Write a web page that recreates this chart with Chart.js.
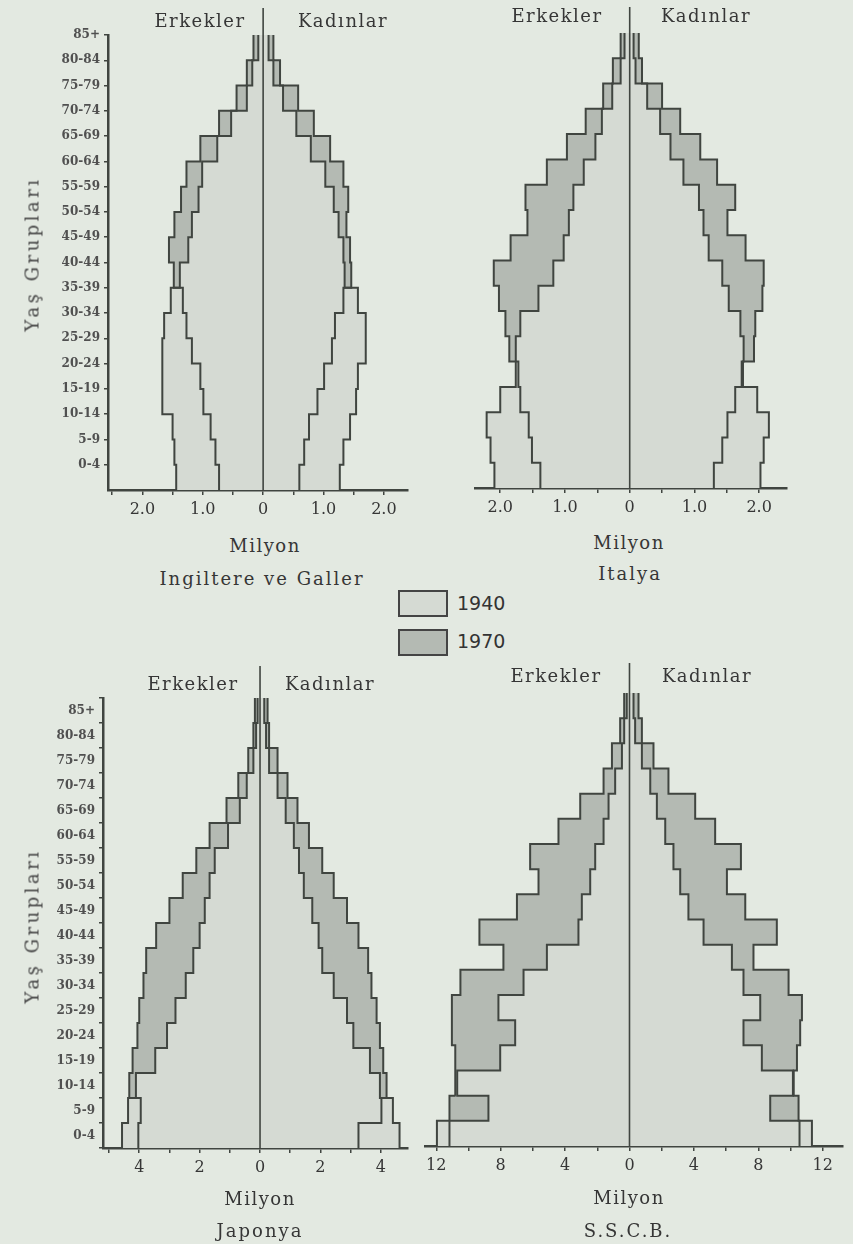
<!DOCTYPE html>
<html lang="tr">
<head>
<meta charset="utf-8">
<title>Yaş piramitleri 1940 - 1970</title>
<script src="https://cdn.jsdelivr.net/npm/chart.js@4.4.1/dist/chart.umd.min.js"></script>
<style>
  body { margin: 0; background: #e3e9e1; }
  #page { position: relative; width: 853px; height: 1244px; overflow: hidden;
          font-family: "DejaVu Serif", serif; color: #363636; }
  canvas { position: absolute; }
  .lbl { position: absolute; transform: translate(-50%, -50%); white-space: nowrap;
         font-size: 18px; letter-spacing: 1.5px; }
  .side { position: absolute; transform: translate(-50%, -50%) rotate(-90deg); white-space: nowrap;
          font-size: 18px; letter-spacing: 3.5px; color: #454545; }
  .box { position: absolute; width: 46px; height: 23px; border: 2px solid #444; }
  .year { position: absolute; transform: translateY(-50%); font-family: "DejaVu Sans", sans-serif;
          font-size: 19px; color: #333; }
</style>
</head>
<body>
<div id="page">
  <canvas id="eng" width="420" height="530" style="left:0;top:0"></canvas>
  <canvas id="ita" width="433" height="530" style="left:420px;top:0"></canvas>
  <canvas id="jpn" width="420" height="530" style="left:0;top:660px"></canvas>
  <canvas id="sun" width="433" height="530" style="left:420px;top:660px"></canvas>

  <div class="lbl" style="left:200px;top:20px">Erkekler</div>
  <div class="lbl" style="left:343px;top:20px">Kadınlar</div>
  <div class="lbl" style="left:557px;top:15px">Erkekler</div>
  <div class="lbl" style="left:706px;top:15px">Kadınlar</div>
  <div class="lbl" style="left:193px;top:683px">Erkekler</div>
  <div class="lbl" style="left:330px;top:683px">Kadınlar</div>
  <div class="lbl" style="left:556px;top:675px">Erkekler</div>
  <div class="lbl" style="left:707px;top:675px">Kadınlar</div>

  <div class="lbl" style="left:265px;top:545px">Milyon</div>
  <div class="lbl" style="left:262px;top:578px;letter-spacing:2px">Ingiltere ve Galler</div>
  <div class="lbl" style="left:629px;top:542px">Milyon</div>
  <div class="lbl" style="left:630px;top:573px;letter-spacing:2px">Italya</div>
  <div class="lbl" style="left:260px;top:1198px">Milyon</div>
  <div class="lbl" style="left:260px;top:1230px;letter-spacing:2px">Japonya</div>
  <div class="lbl" style="left:629px;top:1197px">Milyon</div>
  <div class="lbl" style="left:628px;top:1230px;letter-spacing:2px">S.S.C.B.</div>

  <div class="side" style="left:32px;top:254px">Yaş Grupları</div>
  <div class="side" style="left:32px;top:926px">Yaş Grupları</div>

  <div class="box" style="left:398px;top:590px;background:#d5dad3"></div>
  <div class="year" style="left:457px;top:603px">1940</div>
  <div class="box" style="left:398px;top:629px;background:#b4bab3"></div>
  <div class="year" style="left:457px;top:641px">1970</div>
</div>

<script>
// --- Daten (von unten nach oben: 0-4 ... 85+) ---

const ageGroups = ["0-4", "5-9", "10-14", "15-19", "20-24", "25-29", "30-34", "35-39", "40-44",
    "45-49", "50-54", "55-59", "60-64", "65-69", "70-74", "75-79", "80-84", "85+"];

// Ingiltere ve Galler (Milyon)
const engMen1940 = [1.44, 1.47, 1.50, 1.67, 1.67, 1.67, 1.64, 1.53, 1.38, 1.24, 1.18, 1.07, 1.01, 0.76, 0.53, 0.27, 0.18, 0.08];
const engMen1970 = [0.73, 0.79, 0.87, 0.99, 1.04, 1.18, 1.27, 1.33, 1.48, 1.56, 1.47, 1.36, 1.27, 1.04, 0.73, 0.44, 0.27, 0.16];
const engWomen1940 = [1.27, 1.33, 1.44, 1.54, 1.57, 1.70, 1.70, 1.57, 1.35, 1.33, 1.25, 1.17, 1.03, 0.79, 0.55, 0.33, 0.17, 0.09];
const engWomen1970 = [0.60, 0.68, 0.76, 0.90, 1.01, 1.14, 1.19, 1.33, 1.46, 1.44, 1.38, 1.41, 1.33, 1.11, 0.84, 0.58, 0.28, 0.17];

// Italya
const itaMen1940 = [2.09, 2.15, 2.21, 2.00, 1.76, 1.76, 1.69, 1.41, 1.18, 1.02, 0.94, 0.87, 0.71, 0.53, 0.43, 0.27, 0.14, 0.08];
const itaMen1970 = [1.38, 1.51, 1.56, 1.69, 1.72, 1.86, 1.92, 2.02, 2.10, 1.84, 1.58, 1.61, 1.28, 0.97, 0.68, 0.41, 0.26, 0.14];
const itaWomen1940 = [2.02, 2.07, 2.15, 1.97, 1.75, 1.76, 1.71, 1.53, 1.43, 1.22, 1.14, 1.07, 0.83, 0.63, 0.47, 0.27, 0.09, 0.06];
const itaWomen1970 = [1.30, 1.43, 1.51, 1.63, 1.73, 1.92, 1.94, 2.05, 2.07, 1.79, 1.51, 1.63, 1.35, 1.09, 0.78, 0.50, 0.19, 0.14];

// Japonya
const jpnMen1940 = [4.57, 4.37, 4.11, 3.47, 3.08, 2.80, 2.46, 2.21, 2.00, 1.83, 1.67, 1.50, 1.06, 0.67, 0.44, 0.22, 0.13, 0.08];
const jpnMen1970 = [4.03, 3.95, 4.33, 4.22, 4.06, 4.00, 3.86, 3.77, 3.44, 3.00, 2.56, 2.11, 1.67, 1.11, 0.72, 0.39, 0.22, 0.17];
const jpnWomen1940 = [4.62, 4.40, 3.97, 3.64, 3.09, 2.88, 2.44, 2.06, 1.94, 1.73, 1.45, 1.29, 1.12, 0.85, 0.58, 0.30, 0.20, 0.14];
const jpnWomen1970 = [3.26, 4.02, 4.19, 4.08, 3.97, 3.86, 3.69, 3.58, 3.26, 2.88, 2.44, 2.06, 1.62, 1.24, 0.91, 0.58, 0.30, 0.25];

// S.S.C.B.
const sunMen1940 = [11.96, 8.76, 10.70, 8.03, 7.10, 8.14, 6.58, 5.13, 3.17, 2.96, 2.44, 2.13, 1.61, 1.30, 0.89, 0.47, 0.33, 0.17];
const sunMen1970 = [11.18, 11.18, 10.80, 10.83, 11.03, 11.03, 10.50, 7.83, 9.32, 6.99, 5.65, 6.17, 4.41, 3.06, 1.61, 1.09, 0.58, 0.33];
const sunWomen1940 = [11.33, 8.74, 10.15, 8.22, 7.08, 8.12, 7.08, 6.36, 4.60, 3.66, 3.15, 2.73, 2.22, 1.70, 1.29, 0.77, 0.35, 0.25];
const sunWomen1970 = [10.56, 10.50, 10.20, 10.40, 10.60, 10.71, 9.88, 7.70, 9.15, 7.19, 6.05, 6.92, 5.32, 4.08, 2.42, 1.49, 0.77, 0.56];

// Beschriftete Werte der x-Achsen
const engXLabels = [-2, -1, 0, 1, 2];
const itaXLabels = [-2, -1, 0, 1, 2];
const jpnXLabels = [-4, -2, 0, 2, 4];
const sunXLabels = [-12, -8, -4, 0, 4, 8, 12];

// --- Hilfsfunktionen ---

const LIGHT = "#d5dad3";
const DARK = "#b4bab3";
const INK = "#404540";

function stepPoints(values, sign) {
    // jede Altersgruppe als senkrechte Stufe von i bis i+1
    const points = [];
    values.forEach((v, i) => {
        points.push({ x: sign * v, y: i });
        points.push({ x: sign * v, y: i + 1 });
    });
    return points;
}

function series(values, sign, color) {
    return {
        data: stepPoints(values, sign),
        backgroundColor: color,
        borderColor: INK,
        borderWidth: 2,
        borderJoinStyle: "miter",
        pointRadius: 0,
        tension: 0,
        fill: "origin"
    };
}

const centerLine = {
    id: "centerLine",
    afterDatasetsDraw(chart, args, opts) {
        const x = chart.scales.x.getPixelForValue(0);
        const ctx = chart.ctx;
        ctx.save();
        ctx.strokeStyle = INK;
        ctx.lineWidth = 1.6;
        ctx.beginPath();
        ctx.moveTo(x, opts.top);
        ctx.lineTo(x, chart.chartArea.bottom);
        ctx.stroke();
        ctx.restore();
    }
};

function yAxis(mode, width) {
    if (!mode) {
        return { type: "linear", min: 0, max: 18, display: false };
    }
    // "edge": Etikett an der oberen Grenze, "middle": in der Mitte der Stufe
    const shift = mode === "edge" ? 1 : 0.5;
    return {
        type: "linear",
        min: 0,
        max: 18,
        afterBuildTicks: (scale) => {
            scale.ticks = ageGroups.map((g, i) => ({ value: i + shift }));
        },
        afterFit: (scale) => { scale.width = width; },
        border: { display: true, color: INK, width: 2.5 },
        grid: { drawOnChartArea: false, drawTicks: true, tickLength: 4, color: INK, lineWidth: 1.5,
                offset: mode === "middle" },
        ticks: {
            autoSkip: false,
            padding: 4,
            color: "#505050",
            font: { family: "DejaVu Serif", size: 12, weight: "bold" },
            callback: (v) => ageGroups[Math.round(v - shift)]
        }
    };
}

function makePyramid(id, p) {
    const ctx = document.getElementById(id).getContext("2d");
    return new Chart(ctx, {
        type: "line",
        data: {
            datasets: [
                series(p.men1940, -1, LIGHT),
                series(p.women1940, 1, LIGHT),
                series(p.men1970, -1, DARK),
                series(p.women1970, 1, DARK)
            ]
        },
        plugins: [centerLine],
        options: {
            indexAxis: "y",
            responsive: false,
            animation: false,
            events: [],
            layout: { padding: p.padding },
            scales: {
                x: {
                    type: "linear",
                    min: p.xMin,
                    max: p.xMax,
                    afterFit: (scale) => { scale.height = p.xHeight; },
                    border: { display: true, color: INK, width: 2.5 },
                    grid: { drawOnChartArea: false, drawTicks: true, tickLength: 5, color: INK, lineWidth: 1.5 },
                    ticks: {
                        stepSize: p.step,
                        autoSkip: false,
                        includeBounds: false,
                        maxRotation: 0,
                        padding: 5,
                        color: "#363636",
                        font: { family: "DejaVu Serif", size: 16 },
                        callback: (v) => {
                            if (!p.labels.includes(v)) return "";
                            return v === 0 ? "0" : Math.abs(v).toFixed(p.decimals);
                        }
                    }
                },
                y: yAxis(p.yMode, p.yWidth)
            },
            plugins: {
                legend: { display: false },
                tooltip: { enabled: false },
                filler: { drawTime: "beforeDatasetsDraw" },
                centerLine: { top: p.lineTop }
            }
        }
    });
}

// --- Diagramme ---

document.addEventListener("DOMContentLoaded", function() {
    makePyramid("eng", {
        men1940: engMen1940, men1970: engMen1970, women1940: engWomen1940, women1970: engWomen1970,
        xMin: -2.57, xMax: 2.4, step: 0.5, labels: engXLabels, decimals: 1,
        yMode: "edge", yWidth: 108, xHeight: 40, lineTop: 8,
        padding: { left: 0, right: 12, top: 35, bottom: 0 }
    });
    makePyramid("ita", {
        men1940: itaMen1940, men1970: itaMen1970, women1940: itaWomen1940, women1970: itaWomen1970,
        xMin: -2.39, xMax: 2.43, step: 0.5, labels: itaXLabels, decimals: 1,
        yMode: null, xHeight: 42, lineTop: 7,
        padding: { left: 55, right: 66, top: 33, bottom: 0 }
    });
    makePyramid("jpn", {
        men1940: jpnMen1940, men1970: jpnMen1970, women1940: jpnWomen1940, women1970: jpnWomen1970,
        xMin: -5.2, xMax: 4.9, step: 1, labels: jpnXLabels, decimals: 0,
        yMode: "middle", yWidth: 103, xHeight: 42, lineTop: 6,
        padding: { left: 0, right: 12, top: 38, bottom: 0 }
    });
    makePyramid("sun", {
        men1940: sunMen1940, men1970: sunMen1970, women1940: sunWomen1940, women1970: sunWomen1970,
        xMin: -12.7, xMax: 13.26, step: 2, labels: sunXLabels, decimals: 0,
        yMode: null, xHeight: 44, lineTop: 3,
        padding: { left: 5, right: 10, top: 33, bottom: 0 }
    });
});
</script>
</body>
</html>
